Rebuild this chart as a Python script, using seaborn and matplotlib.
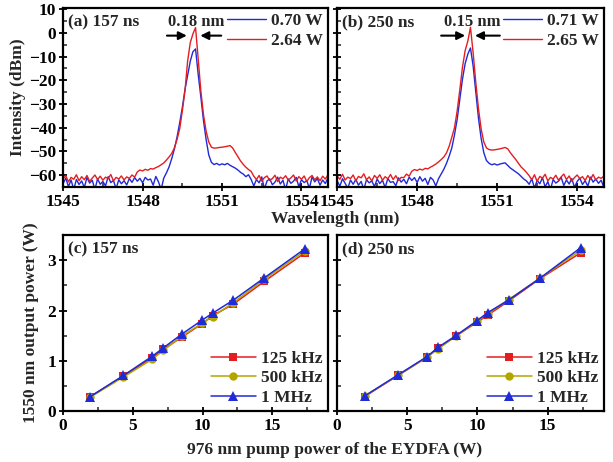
import numpy as np
import pandas as pd
import seaborn as sns
import matplotlib
matplotlib.use("Agg")
import matplotlib.pyplot as plt
from matplotlib.ticker import MultipleLocator

sns.set_theme(style="ticks")
plt.rcParams["font.family"] = ["Liberation Serif", "DejaVu Serif"]
plt.rcParams["font.weight"] = "bold"
plt.rcParams["axes.labelweight"] = "bold"
plt.rcParams["font.size"] = 12.5

# ---- spectra: sampled every 0.1 nm from 1545.0 to 1555.3 ----
wl = np.round(np.arange(1545.0, 1555.35, 0.1), 2)

red_a = [-61.5, -60.2, -62.8, -60.9, -61.7, -59.8, -62.3, -60.6, -61.9, -60.1,
         -62.6, -61.2, -59.9, -61.8, -60.4, -62.1, -60.8, -61.4, -59.7, -62.4,
         -60.9, -61.6, -60.3, -62.0, -60.7, -61.3, -59.9, -60.8,
         -58.6, -57.8, -58.2, -57.5, -57.9, -57.2, -57.4, -56.8, -56.3, -55.6,
         -54.8, -53.6, -52.3, -50.8, -48.5, -45.0, -40.5, -33.0, -24.5, -12.0,
         -4.2, -0.5, 2.2, -11.0, -24.5, -34.5, -41.5, -46.0, -48.2, -48.6,
         -48.5, -48.3, -48.2, -48.0, -47.8, -47.5, -48.5, -50.4, -52.2, -54.0,
         -55.4, -56.6, -57.6, -58.4,
         -60.4, -61.8, -60.1, -62.5, -61.0, -60.3, -62.2, -61.4, -60.0, -62.7,
         -60.8, -61.5, -60.2, -62.0, -61.1, -59.9, -62.4, -60.6, -61.7, -60.3,
         -62.6, -61.0, -60.1, -61.9, -60.7, -62.3, -60.4, -61.6, -59.8, -62.1,
         -60.9, -61.3]
blue_a = [-63.5, -61.2, -64.8, -62.0, -66.0, -61.8, -63.9, -62.4, -65.2, -60.9,
          -63.3, -62.1, -66.0, -61.5, -63.8, -62.6, -64.5, -60.6, -63.1, -62.2,
          -65.7, -61.9, -63.6, -62.3, -64.1, -61.4, -63.0, -61.0, -62.5, -61.3,
          -63.2, -60.9, -62.0, -61.6, -64.2, -60.5, -62.8, -66.0, -61.2,
          -59.0, -56.5, -53.0, -49.0, -44.0, -38.0, -31.5, -24.0, -18.0, -12.0,
          -8.0, -6.8, -17.5, -27.0, -37.0, -45.0, -51.5, -54.6, -55.5, -55.0,
          -55.7, -55.2, -55.6, -55.0, -55.8, -56.4, -57.0, -57.8, -58.8, -59.5,
          -60.6, -59.8, -61.8,
          -64.5, -61.8, -63.2, -60.7, -65.8, -62.4, -61.5, -64.0, -62.9, -60.8,
          -63.7, -62.1, -66.0, -61.6, -63.4, -62.5, -60.9, -64.8, -61.9, -63.1,
          -62.3, -65.5, -60.7, -62.8, -61.4, -64.2, -62.0, -63.5, -61.1, -62.7,
          -60.6, -63.8]
red_b = [-60.3, -61.7, -59.6, -62.0, -60.8, -61.4, -59.9, -62.3, -60.5, -61.1,
         -59.4, -61.9, -60.7, -62.4, -60.1, -61.3, -59.8, -62.1, -60.6, -61.5,
         -59.7, -61.8, -60.2, -62.2, -60.9, -61.0, -59.5, -60.4,
         -58.3, -57.6, -58.0, -57.4, -57.8, -57.1, -57.3, -56.6, -56.0, -55.3,
         -54.4, -53.4, -52.3, -50.6, -47.8, -44.0, -40.0, -33.0, -24.0, -14.5,
         -7.5, -3.5, 2.3, -8.5, -21.0, -32.0, -40.5, -46.0, -48.5, -49.2,
         -49.4, -49.3, -49.1, -48.9, -48.6, -48.3, -48.9, -50.6, -52.0, -53.4,
         -55.0, -56.5, -57.6, -58.8,
         -60.2, -61.9, -59.8, -62.6, -60.5, -61.2, -59.6, -62.4, -60.9, -61.6,
         -60.0, -62.1, -60.7, -59.5, -61.8, -60.3, -62.5, -61.0, -59.9, -61.4,
         -60.6, -62.2, -60.1, -61.7, -59.7, -62.0, -60.8, -61.3, -60.4, -62.3,
         -59.9, -61.1]
blue_b = [-62.3, -64.6, -61.5, -63.4, -65.5, -62.0, -63.8, -61.8, -64.2, -62.6,
          -66.0, -61.9, -63.2, -62.4, -64.8, -61.6, -63.5, -62.1, -65.2, -61.4,
          -63.0, -62.7, -64.4, -61.1, -62.9, -61.7, -63.6, -60.8, -62.2, -61.0,
          -63.1, -60.6, -62.5, -61.3, -63.9, -60.9, -62.0, -64.5, -61.5,
          -59.5, -57.5, -55.0, -52.0, -48.5, -43.0, -36.5, -28.0, -19.5, -13.0,
          -9.0, -6.4, -14.0, -25.0, -36.0, -44.5, -50.5, -53.8, -55.0, -55.6,
          -55.2, -55.7, -55.3, -55.0, -54.8, -55.9, -57.0, -57.8, -58.6, -59.4,
          -60.5, -61.6, -62.4,
          -63.8, -61.5, -65.4, -62.2, -63.6, -61.0, -64.9, -62.7, -66.0, -61.8,
          -63.3, -62.5, -60.9, -64.3, -62.0, -63.7, -61.4, -65.1, -62.6, -61.2,
          -63.9, -62.3, -64.6, -60.8, -62.9, -61.6, -63.4, -62.1, -65.0, -61.3,
          -62.8, -61.9]

# ---- output power vs pump power ----
pump = [1.95, 4.33, 6.38, 7.2, 8.5, 9.97, 10.73, 12.22, 14.43, 17.35]
c_125k = [0.29, 0.70, 1.06, 1.23, 1.47, 1.74, 1.90, 2.13, 2.58, 3.15]
c_500k = [0.28, 0.68, 1.03, 1.21, 1.49, 1.75, 1.88, 2.16, 2.62, 3.19]
c_1M = [0.29, 0.71, 1.09, 1.26, 1.53, 1.81, 1.95, 2.21, 2.65, 3.23]
d_125k = [0.29, 0.71, 1.07, 1.25, 1.50, 1.77, 1.91, 2.19, 2.63, 3.15]
d_500k = [0.30, 0.71, 1.07, 1.24, 1.50, 1.79, 1.94, 2.22, 2.64, 3.20]
d_1M = [0.30, 0.72, 1.08, 1.27, 1.51, 1.80, 1.96, 2.21, 2.64, 3.25]

RED = "#e41e20"
BLUE = "#1f2ad8"
OLIVE = "#b3a500"

fig = plt.figure(figsize=(6.13, 4.62), dpi=100)
ax_a = fig.add_axes([0.103, 0.595, 0.432, 0.388])
ax_b = fig.add_axes([0.550, 0.595, 0.435, 0.388])
ax_c = fig.add_axes([0.103, 0.110, 0.432, 0.381])
ax_d = fig.add_axes([0.550, 0.110, 0.435, 0.381])


def style_axes(ax):
    for s in ax.spines.values():
        s.set_linewidth(1.6)
        s.set_color("black")
    ax.tick_params(which="major", direction="inout", length=6, width=1.3,
                   colors="black", labelsize=12.5, pad=2,
                   top=False, right=False)
    ax.tick_params(which="minor", direction="in", length=3, width=1.1,
                   top=False, right=False)


spectra = [
    (ax_a, blue_a, red_a, "0.70 W", "2.64 W", "(a) 157 ns", "0.18 nm",
     (1548.92, 1549.67), (1550.97, 1550.18), 1550.03),
    (ax_b, blue_b, red_b, "0.71 W", "2.65 W", "(b) 250 ns", "0.15 nm",
     (1548.90, 1549.80), (1551.10, 1550.17), 1550.05),
]
for ax, blue, red, lab_b, lab_r, title, fwhm, larr, rarr, tx in spectra:
    sns.lineplot(x=wl, y=blue, ax=ax, color=BLUE, lw=1.0, label=lab_b)
    sns.lineplot(x=wl, y=red, ax=ax, color=RED, lw=1.0, label=lab_r)
    ax.set_xlim(1545, 1555)
    ax.set_ylim(-65, 10.5)
    ax.xaxis.set_major_locator(MultipleLocator(3))
    ax.xaxis.set_minor_locator(MultipleLocator(1.5))
    ax.yaxis.set_major_locator(MultipleLocator(10))
    ax.yaxis.set_minor_locator(MultipleLocator(5))
    style_axes(ax)
    ax.text(0.02, 0.965, title, transform=ax.transAxes, ha="left", va="top",
            fontsize=12.5, fontweight="bold")
    ax.legend(loc="upper right", frameon=False, fontsize=12.5,
              handlelength=2.2, handletextpad=0.3, labelspacing=0.2,
              borderaxespad=0.1, borderpad=0.2)
    ax.annotate("", xy=(larr[1], -1.2), xytext=(larr[0], -1.2),
                arrowprops=dict(arrowstyle="-|>", color="black", lw=1.5,
                                mutation_scale=12, shrinkA=0, shrinkB=0))
    ax.annotate("", xy=(rarr[1], -1.2), xytext=(rarr[0], -1.2),
                arrowprops=dict(arrowstyle="-|>", color="black", lw=1.5,
                                mutation_scale=12, shrinkA=0, shrinkB=0))
    ax.text(tx, 4.6, fwhm, ha="center", va="center", fontsize=12,
            fontweight="bold")
    ax.set_xlabel("")
    ax.set_ylabel("")

ax_a.set_ylabel("Intensity (dBm)", fontsize=12.5, labelpad=2)
ax_b.tick_params(labelleft=False)

powers = [
    (ax_c, c_125k, c_500k, c_1M, "(c) 157 ns"),
    (ax_d, d_125k, d_500k, d_1M, "(d) 250 ns"),
]
for ax, p125, p500, p1m, title in powers:
    sns.lineplot(x=pump, y=p125, ax=ax, color=RED, lw=1.1, marker="s",
                 markersize=6, markeredgewidth=0, label="125 kHz")
    sns.lineplot(x=pump, y=p500, ax=ax, color=OLIVE, lw=1.1, marker="o",
                 markersize=6, markeredgewidth=0, label="500 kHz")
    sns.lineplot(x=pump, y=p1m, ax=ax, color=BLUE, lw=1.1, marker="^",
                 markersize=7, markeredgewidth=0, label="1 MHz")
    ax.set_xlim(0, 19)
    ax.set_ylim(0, 3.5)
    ax.xaxis.set_major_locator(MultipleLocator(5))
    ax.xaxis.set_minor_locator(MultipleLocator(2.5))
    ax.yaxis.set_major_locator(MultipleLocator(1))
    ax.yaxis.set_minor_locator(MultipleLocator(0.5))
    style_axes(ax)
    ax.text(0.02, 0.965, title, transform=ax.transAxes, ha="left", va="top",
            fontsize=12.5, fontweight="bold")
    ax.legend(loc="lower right", frameon=False, fontsize=12.5,
              handlelength=2.6, handletextpad=0.3, labelspacing=0.2,
              borderaxespad=0.1, borderpad=0.2)
    ax.set_xlabel("")
    ax.set_ylabel("")

ax_c.set_ylabel("1550 nm output power (W)", fontsize=12.5, labelpad=6)
ax_d.tick_params(labelleft=False)

fig.text(0.546, 0.526, "Wavelength (nm)", ha="center", va="center",
         fontsize=12.5, fontweight="bold")
fig.text(0.546, 0.027, "976 nm pump power of the EYDFA (W)", ha="center",
         va="center", fontsize=12.5, fontweight="bold")

fig.savefig("out.png", dpi=100)
